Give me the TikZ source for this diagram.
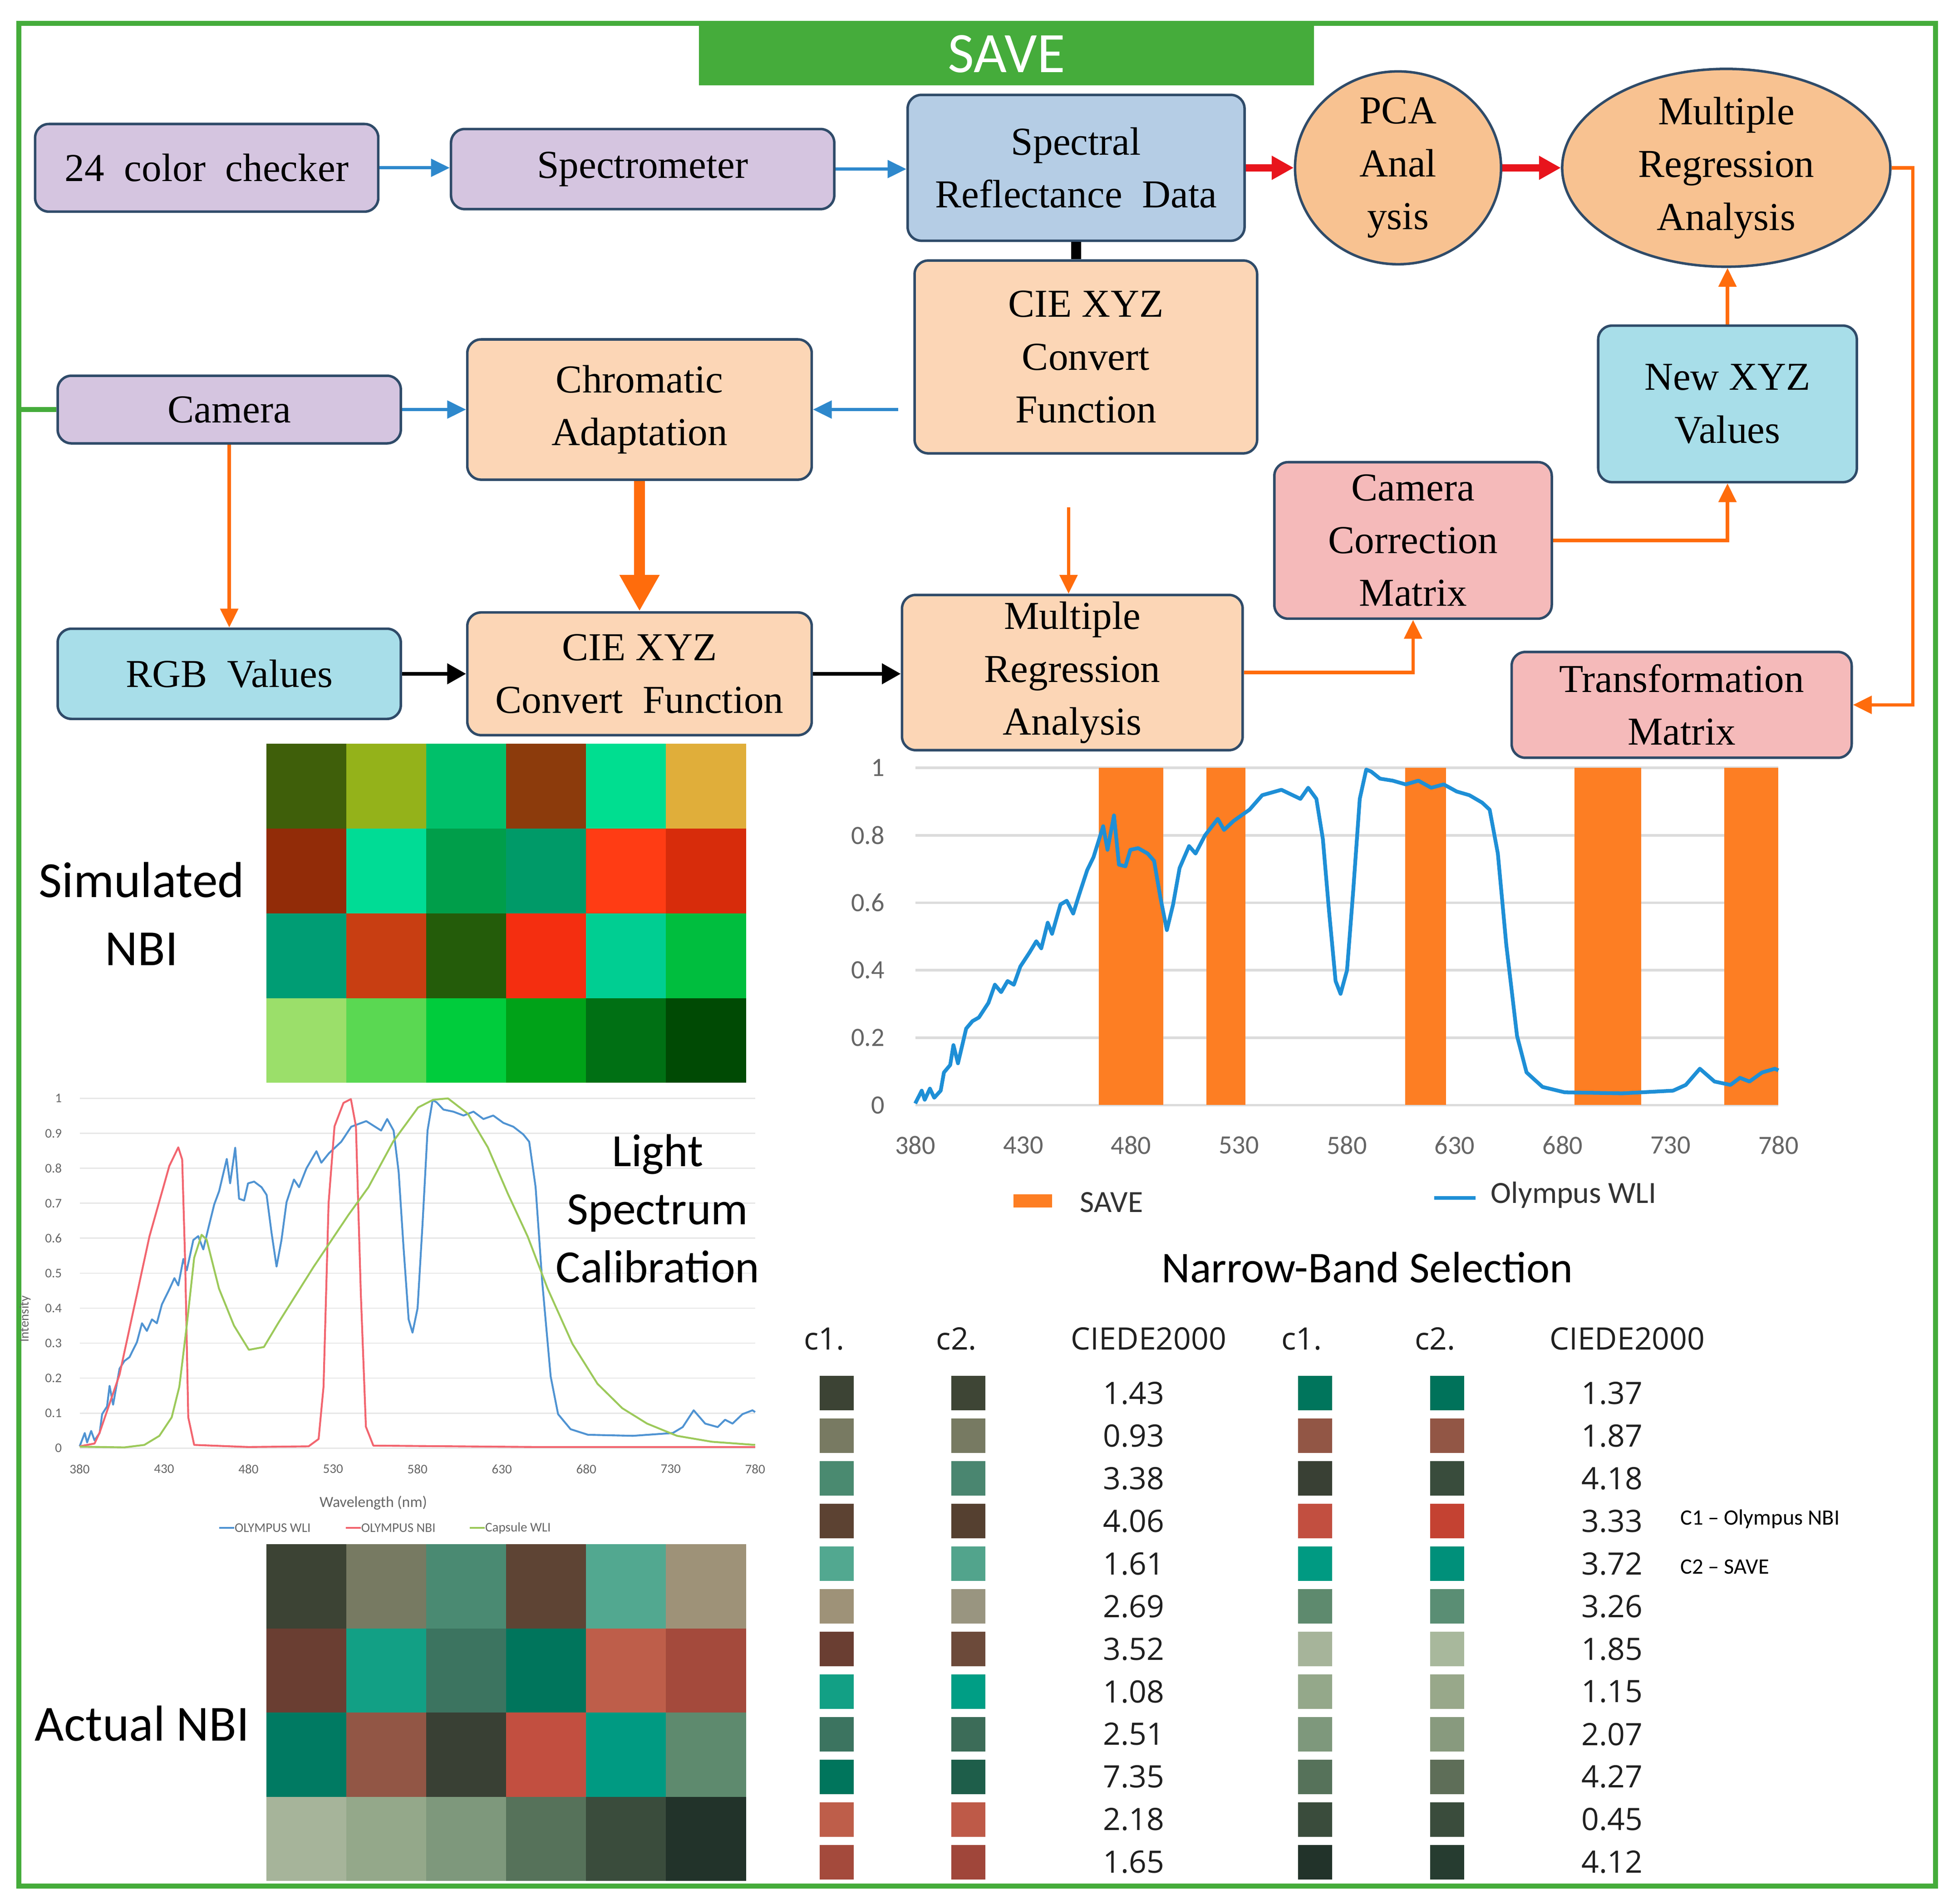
\documentclass[tikz,border=0pt]{standalone}
\usepackage{fontspec}
\setmainfont{Liberation Serif}
\newfontfamily\calfont{Carlito}
\newfontfamily\tabfont{Open Sans}
\usetikzlibrary{arrows.meta,shapes.geometric}

\definecolor{framegreen}{HTML}{45AC3B}
\definecolor{boxline}{HTML}{2F4B69}
\definecolor{lavender}{HTML}{D5C5E0}
\definecolor{peach}{HTML}{FCD6B6}
\definecolor{ovalorange}{HTML}{F8C291}
\definecolor{specblue}{HTML}{B5CDE5}
\definecolor{cyanbox}{HTML}{A8DEE9}
\definecolor{pinkbox}{HTML}{F5BABA}
\definecolor{arrblue}{HTML}{2E88CC}
\definecolor{arrorange}{HTML}{FF6C0C}
\definecolor{arrred}{HTML}{E8141C}
\definecolor{barorange}{HTML}{FD7E23}
\definecolor{wliblue}{HTML}{1E8FD6}
\definecolor{wlilight}{HTML}{4F93D2}
\definecolor{nbired}{HTML}{F2656F}
\definecolor{capgreen}{HTML}{9CC95A}
\definecolor{gridline}{HTML}{DCDCDC}
\definecolor{ticktext}{HTML}{666666}

% spectra, wavelength/intensity
\newcommand\wlipts{383/0.043, 384.4/0.016, 386.8/0.049, 388.8/0.022, 391.8/0.043, 393.3/0.097, 396.2/0.119, 397.7/0.178, 399.8/0.124, 403.6/0.227, 406.5/0.249, 409.5/0.26, 413.9/0.303, 416.9/0.357, 419.8/0.335, 422.8/0.368, 425.7/0.357, 428.7/0.411, 433.1/0.454, 436.1/0.486, 438.4/0.465, 441.4/0.541, 443.4/0.508, 447.3/0.595, 450.2/0.606, 453.2/0.568, 456.1/0.627, 459.7/0.697, 462.6/0.735, 467.1/0.827, 469.1/0.757, 472.1/0.859, 474.4/0.713, 477.4/0.708, 479.7/0.757, 483.3/0.762, 487.7/0.746, 490.7/0.724, 493.6/0.616, 496.6/0.519, 499.5/0.595, 502.5/0.703, 506.9/0.768, 509.9/0.746, 514.3/0.8, 520.2/0.849, 523.1/0.816, 527.6/0.843, 534.9/0.876, 540.8/0.919, 549.7/0.935, 558.5/0.908, 562.1/0.941, 565.9/0.908, 568.9/0.789, 571.8/0.573, 574.8/0.368, 577.1/0.33, 580.1/0.4, 583/0.638, 586/0.908, 589/0.995, 591.3/0.989, 595.4/0.968, 601.3/0.962, 607.3/0.951, 613.2/0.962, 619.1/0.941, 624.9/0.951, 630.9/0.93, 636.8/0.919, 642.7/0.897, 646.2/0.876, 650/0.746, 653.9/0.476, 658.9/0.205, 663.3/0.097, 670.7/0.054, 681/0.038, 707.6/0.035, 731.2/0.043, 737.1/0.06, 743.6/0.108, 750.4/0.07, 757.8/0.06, 762.2/0.081, 766.6/0.07, 772.5/0.097, 778.4/0.108, 780/0.103}
\newcommand\nbipts{388.8/0.013, 391.8/0.044, 403.6/0.21, 421.3/0.605, 433.1/0.807, 438.4/0.86, 440.7/0.825, 442.5/0.526, 444.3/0.088, 447.8/0.009, 480/0.003, 515.6/0.005, 521.5/0.026, 524.4/0.175, 527.4/0.7, 530.9/0.92, 536.2/0.987, 540.6/0.998, 543.6/0.92, 546.5/0.44, 549.5/0.061, 553.9/0.007, 650/0.003, 780/0.003}
\newcommand\cappts{406.5/0.002, 418.3/0.009, 427.2/0.035, 434.5/0.088, 439/0.175, 443.4/0.35, 447.8/0.544, 452.2/0.61, 455.2/0.596, 462.5/0.456, 471.4/0.35, 480.2/0.281, 489.1/0.289, 497.9/0.36, 518.5/0.518, 539.2/0.667, 551/0.746, 565.7/0.877, 580.4/0.974, 589.3/0.996, 598.1/1.0, 609.9/0.956, 621.7/0.86, 633.5/0.728, 645.3/0.605, 657.1/0.456, 671.8/0.298, 686.6/0.184, 701.3/0.114, 716/0.07, 733.7/0.035, 754.4/0.018, 780/0.009}

\tikzset{
  flowbox/.style={draw=boxline, line width=0.04cm, rounded corners=0.22cm, align=center, inner sep=0pt, font=\fontsize{18}{24}\selectfont},
  ovalbox/.style={draw=boxline, line width=0.04cm, ellipse, fill=ovalorange, inner sep=0pt},
  ovaltext/.style={align=center, inner sep=0pt, font=\fontsize{18}{24}\selectfont},
  bluearrow/.style={arrblue, line width=0.05cm, -{Triangle[length=0.3cm,width=0.28cm]}},
  orangearrow/.style={arrorange, line width=0.055cm, -{Triangle[length=0.3cm,width=0.28cm]}},
  fatarrow/.style={arrorange, line width=0.18cm, -{Triangle[length=0.58cm,width=0.6cm]}},
  redarrow/.style={arrred, line width=0.12cm, -{Triangle[length=0.35cm,width=0.36cm]}},
  blackarrow/.style={black, line width=0.06cm, -{Triangle[length=0.3cm,width=0.32cm]}},
  blackbar/.style={black, line width=0.16cm},
  sidelabel/.style={font=\calfont\fontsize{23}{31}\selectfont, align=center, inner sep=0pt},
  ticklbl/.style={font=\calfont\fontsize{6}{7}\selectfont, text=ticktext, inner sep=1pt},
  bandtick/.style={font=\calfont\fontsize{12}{14}\selectfont, text=ticktext, inner sep=1pt},
  tabtext/.style={font=\tabfont\fontsize{14}{16}\selectfont, text=black!88, inner sep=0pt},
}

\begin{document}
\begin{tikzpicture}[x=0.02cm,y=-0.02cm]
  \useasboundingbox (0,0) rectangle (1563,1520);
  \draw[framegreen, line width=0.08cm] (15,18.5) rectangle (1545,1506);
  \node[fill=framegreen, minimum width=9.82cm, minimum height=0.99cm, inner sep=0pt, text=white, font=\calfont\fontsize{26}{30}\selectfont] (savebar) at (803.5,43.3) {SAVE};

  % flow chart
  \node[flowbox, fill=lavender, minimum width=5.48cm, minimum height=1.4cm] (checker) at (165,134) {24\ \ color\ \ checker};
  \node[flowbox, fill=lavender, minimum width=6.12cm, minimum height=1.28cm] (spectro) at (513,135) {Spectrometer};
  \node[flowbox, fill=specblue, minimum width=5.38cm, minimum height=2.33cm] (spectral) at (859,134) {Spectral\\Reflectance\ \ Data};
  \node[ovalbox, minimum width=3.29cm, minimum height=3.08cm] (pca) at (1116,134) {};
  \node[ovaltext] (pcatxt) at (pca.center) {PCA\\Anal\\ysis};
  \node[ovalbox, minimum width=5.24cm, minimum height=3.16cm] (mreg) at (1378,134) {};
  \node[ovaltext] (mregtxt) at (mreg.center) {Multiple\\Regression\\Analysis};

  \node[flowbox, fill=peach, minimum width=5.47cm, minimum height=3.08cm] (xyzconv) at (866.8,285) {CIE XYZ\\Convert\\Function};
  \node[flowbox, fill=lavender, minimum width=5.48cm, minimum height=1.08cm] (camera) at (183,327) {Camera};
  \node[flowbox, fill=peach, minimum width=5.5cm, minimum height=2.24cm] (chroma) at (510.5,327) {Chromatic\\Adaptation};
  \node[flowbox, fill=cyanbox, minimum width=4.13cm, minimum height=2.5cm] (newxyz) at (1379,322.5) {New XYZ\\Values};
  \node[flowbox, fill=pinkbox, minimum width=4.43cm, minimum height=2.5cm] (camcorr) at (1128,431.5) {Camera\\Correction\\Matrix};

  \node[flowbox, fill=cyanbox, minimum width=5.48cm, minimum height=1.44cm] (rgb) at (183,538) {RGB\ \ Values};
  \node[flowbox, fill=peach, minimum width=5.5cm, minimum height=1.96cm] (xyzfun) at (510.5,538) {CIE XYZ\\Convert\ \ Function};
  \node[flowbox, fill=peach, minimum width=5.44cm, minimum height=2.48cm] (mregbox) at (856,537) {Multiple\\Regression\\Analysis};
  \node[flowbox, fill=pinkbox, minimum width=5.43cm, minimum height=1.69cm] (transmat) at (1342.4,562.8) {Transformation\\Matrix};

  \draw[bluearrow] (checker.east) -- (spectro.west |- checker.east);
  \draw[bluearrow] (spectro.east) -- (spectral.west |- spectro.east);
  \draw[redarrow] (spectral.east) -- (pca.west);
  \draw[redarrow] (pca.east) -- (mreg.west);
  \draw[blackbar] (spectral.south) -- (spectral.south |- xyzconv.north);
  \draw[bluearrow, shorten <=0.24cm] (xyzconv.west |- chroma.east) -- (chroma.east);
  \draw[bluearrow] (camera.east) -- (chroma.west);
  \draw[orangearrow] (camera.south) -- (rgb.north);
  \draw[fatarrow] (chroma.south) -- (xyzfun.north);
  \draw[blackarrow] (rgb.east) -- (xyzfun.west);
  \draw[blackarrow] (xyzfun.east) -- (mregbox.west |- xyzfun.east);
  \coordinate (mregin) at (853,405);
  \draw[orangearrow] (mregin) -- (mregin |- mregbox.north);
  \draw[orangearrow] (mregbox.east) -| (camcorr.south);
  \draw[orangearrow] (camcorr.east) -| (newxyz.south);
  \draw[orangearrow] (newxyz.north) -- (newxyz.north |- mreg.south);
  \draw[orangearrow] (mreg.east) -- ++(17,0) |- (transmat.east);
  \coordinate (frameleft) at (15,327);
  \draw[framegreen, line width=0.08cm] (frameleft) -- (camera.west);

  % simulated NBI patches
  \foreach \c [count=\i from 0] in {3F5F0A,94B21A,00C06A,8C3B0C,00DE90,E0AE3A,922C08,00DC95,009E4A,009A68,FF3C14,D72C0B,009D74,C83E12,245C0A,F42E10,00CE92,00BE3E,9BDF6A,5AD852,00CC3C,00A218,007014,004A04}{
    \pgfmathtruncatemacro\col{mod(\i,6)}
    \pgfmathtruncatemacro\row{\i/6}
    \definecolor{patch}{HTML}{\c}
    \fill[patch] (212.5+\col*63.83,593.8+\row*67.7) rectangle ++(63.83,67.7);
  }
  \node[sidelabel] (simlabel) at (113,729.5) {Simulated\\NBI};

  % actual NBI patches
  \foreach \c [count=\i from 0] in {3C4334,777A62,4A8A72,5E4434,52A890,9E9278,6A3E32,12A085,3C7460,00755C,BE5E4A,A44A3C,007A62,925645,394034,C24F40,009A82,5E8A6E,A6B49A,94A88A,7E987C,56725A,3A4C3C,22332A}{
    \pgfmathtruncatemacro\col{mod(\i,6)}
    \pgfmathtruncatemacro\row{\i/6}
    \definecolor{patch}{HTML}{\c}
    \fill[patch] (212.5+\col*63.83,1232.9+\row*67.25) rectangle ++(63.83,67.25);
  }
  \node[sidelabel] (actlabel) at (113.5,1376) {Actual NBI};

  % light spectrum plot
  \begin{scope}[shift={(-448.64,1156.2)}, xscale=1.348, yscale=-279.2]
    \foreach \k in {0,...,10} \draw[gridline!70, line width=0.02cm] (380,\k/10) -- (780,\k/10);
    \foreach \k/\t in {0/0,1/0.1,2/0.2,3/0.3,4/0.4,5/0.5,6/0.6,7/0.7,8/0.8,9/0.9,10/1}
      \node[ticklbl, anchor=east] (ly\k) at (371,\k/10) {\t};
    \foreach \w in {380,430,...,780} \node[ticklbl] (lx\w) at (\w,-0.06) {\w};
    \draw[wlilight, line width=0.03cm, line join=round] (380,0.005) \foreach \a/\b in \wlipts {-- (\a,\b)};
    \draw[nbired, line width=0.03cm, line join=round] (380,0.005) \foreach \a/\b in \nbipts {-- (\a,\b)};
    \draw[capgreen, line width=0.03cm, line join=round] (380,0.004) \foreach \a/\b in \cappts {-- (\a,\b)};
  \end{scope}
  \node[ticklbl, rotate=90] (inttitle) at (20,1053) {Intensity};
  \node[ticklbl, font=\calfont\fontsize{7}{8}\selectfont] (wavetitle) at (298,1200) {Wavelength (nm)};
  \draw[wlilight, line width=0.03cm] (175,1220) -- (187,1220);
  \node[ticklbl, anchor=west, inner sep=0pt] (wlilbl) at (187,1220) {OLYMPUS WLI};
  \draw[nbired, line width=0.03cm] (276,1220) -- (288,1220);
  \node[ticklbl, anchor=west, inner sep=0pt] (nbilbl) at (288,1220) {OLYMPUS NBI};
  \draw[capgreen, line width=0.03cm] (375,1220) -- (387,1220);
  \node[ticklbl, anchor=west, inner sep=0pt] (caplbl) at (387,1220) {Capsule WLI};
  \node[sidelabel, font=\calfont\fontsize{21}{26.4}\selectfont] (lightlabel) at (525,965) {Light\\Spectrum\\Calibration};

  % narrow-band selection plot
  \begin{scope}[shift={(76.05,882.4)}, xscale=1.7225, yscale=-269.3]
    \foreach \k in {0,...,5} \draw[gridline, line width=0.04cm] (380,\k/5) -- (780,\k/5);
    \foreach \a/\b in {465/495,515/533,607/626,685.5/716.5,755/780} \fill[barorange] (\a,0) rectangle (\b,1);
    \draw[wliblue, line width=0.06cm, line join=round] (380,0.005) \foreach \a/\b in \wlipts {-- (\a,\b)};
    \foreach \k/\t in {0/0,1/0.2,2/0.4,3/0.6,4/0.8,5/1}
      \node[bandtick, anchor=east] (by\k) at (367,\k/5) {\t};
    \foreach \w in {380,430,...,780} \node[bandtick] (bx\w) at (\w,-0.119) {\w};
  \end{scope}
  \fill[barorange] (809,953.7) rectangle (840,964);
  \node[bandtick, font=\calfont\fontsize{14}{16}\selectfont, text=black!80, anchor=west] (savekey) at (860,960) {SAVE};
  \draw[wliblue, line width=0.06cm] (1145,956.6) -- (1178,956.6);
  \node[bandtick, font=\calfont\fontsize{14}{16}\selectfont, text=black!80, anchor=west] (wlikey) at (1188,954) {Olympus WLI};
  \node[font=\calfont\fontsize{20}{24}\selectfont] (bandtitle) at (1091.5,1012) {Narrow-Band Selection};

  % CIEDE2000 table
  \foreach \x/\t [count=\n] in {658/c1.,763.5/c2.,917/CIEDE2000,1039/c1.,1145.6/c2.,1299/CIEDE2000}
    \node[tabtext] (head\n) at (\x,1069) {\t};
  \foreach \a/\b/\d/\e/\f/\g [count=\r from 0] in {
      3C4334/3E4535/1.43/00755C/00725A/1.37, 787A62/777A62/0.93/925645/925645/1.87,
      4A8A70/4A8670/3.38/394034/394C3C/4.18, 5C4232/554030/4.06/C24F40/C44232/3.33,
      52A890/52A48C/1.61/009A82/00907A/3.72, 9E9278/999580/2.69/5E8A6E/5A8E74/3.26,
      6A3E32/6C4A3A/3.52/A6B49A/A8B89C/1.85, 12A085/009E85/1.08/94A88A/98A88A/1.15,
      3C7460/3C6C58/2.51/7E987C/889A7E/2.07, 00755C/1E5E4A/7.35/56725A/5E6E58/4.27,
      BE5E4A/BE5A48/2.18/3A4C3C/3A4C3C/0.45, A44A3C/A0463A/1.65/22332A/263C30/4.12}{
    \definecolor{swatcha}{HTML}{\a}
    \definecolor{swatchb}{HTML}{\b}
    \definecolor{swatchc}{HTML}{\e}
    \definecolor{swatchd}{HTML}{\f}
    \fill[swatcha] (654.2,1098.5+\r*34.05) rectangle ++(27.2,27.6);
    \fill[swatchb] (759.5,1098.5+\r*34.05) rectangle ++(27.2,27.6);
    \fill[swatchc] (1036.3,1098.5+\r*34.05) rectangle ++(27.2,27.6);
    \fill[swatchd] (1141.6,1098.5+\r*34.05) rectangle ++(27.2,27.6);
    \node[tabtext] (lnum\r) at (905,1112.3+\r*34.05) {\d};
    \node[tabtext] (rnum\r) at (1287,1112.3+\r*34.05) {\g};
  }
  \node[font=\calfont\fontsize{10}{12}\selectfont, anchor=west, inner sep=0pt] (c1note) at (1341,1213) {C1 – Olympus NBI};
  \node[font=\calfont\fontsize{10}{12}\selectfont, anchor=west, inner sep=0pt] (c2note) at (1341,1251) {C2 – SAVE};
\end{tikzpicture}
\end{document}
